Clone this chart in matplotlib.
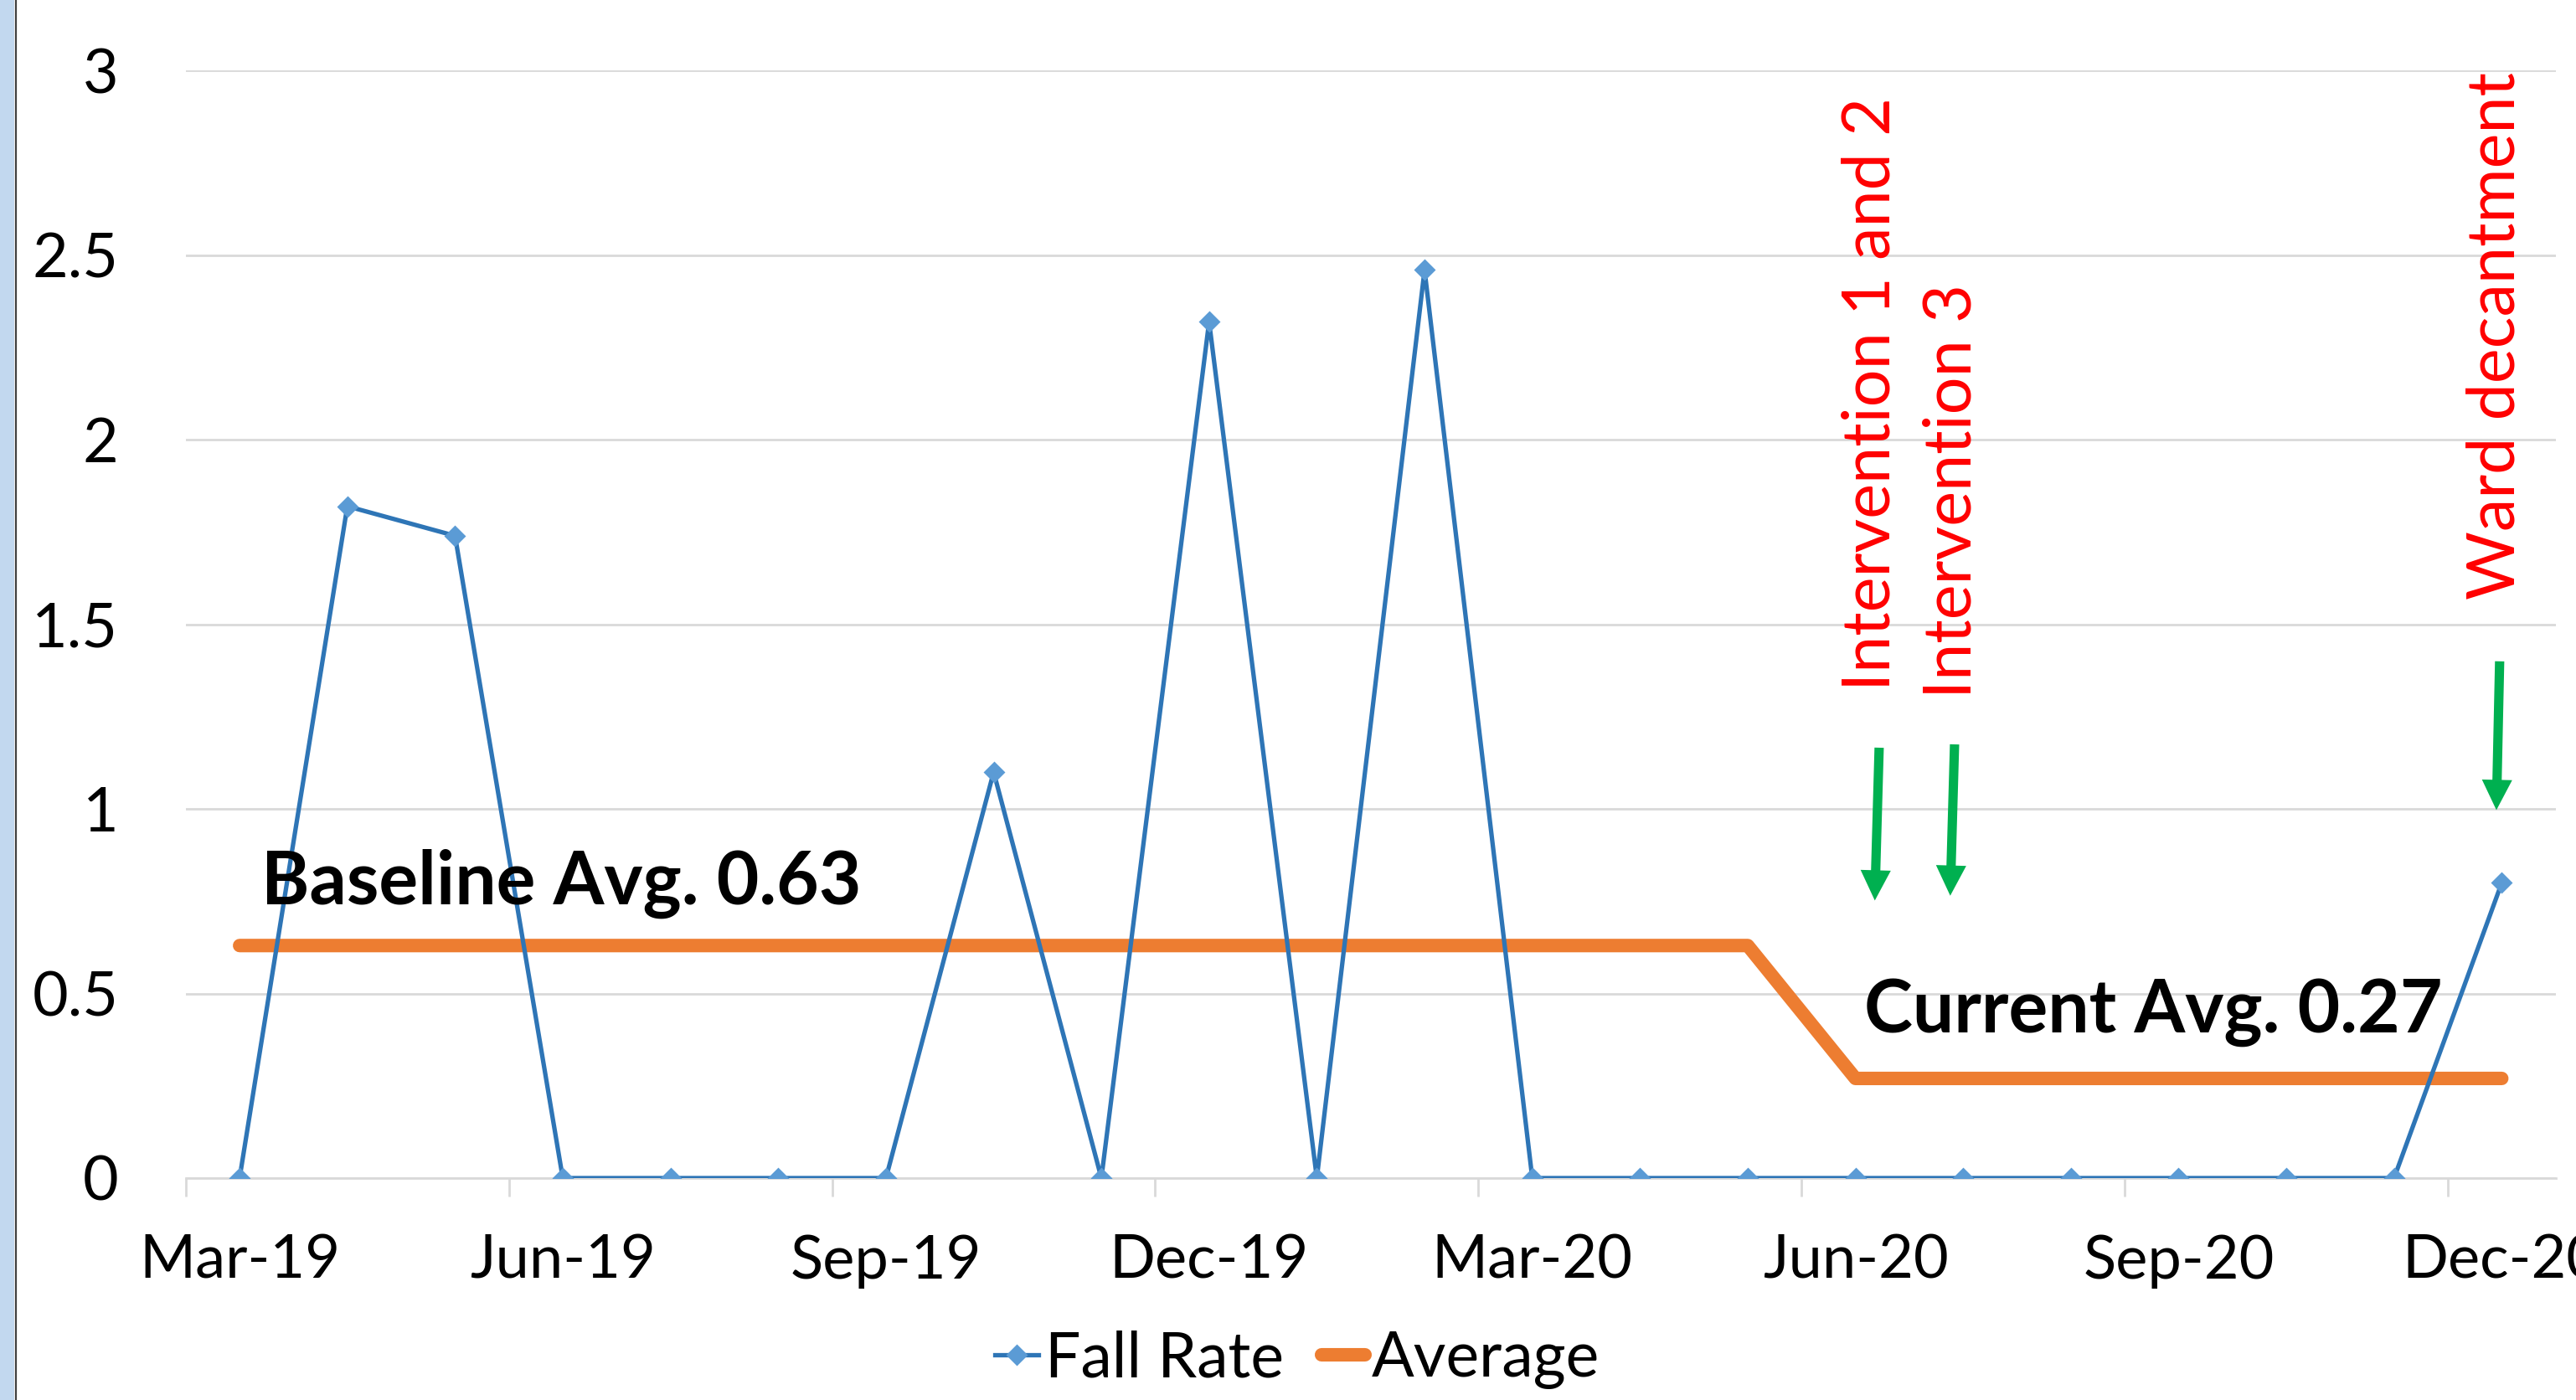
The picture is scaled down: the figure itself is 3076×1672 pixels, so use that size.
import matplotlib
matplotlib.use('Agg')
import matplotlib.pyplot as plt
from matplotlib.patches import Rectangle
from matplotlib.lines import Line2D

plt.rcParams['font.family'] = ['Lato', 'DejaVu Sans']

# monthly fall rate, Mar-19 .. Dec-20
months = ['Mar-19', 'Apr-19', 'May-19', 'Jun-19', 'Jul-19', 'Aug-19', 'Sep-19',
          'Oct-19', 'Nov-19', 'Dec-19', 'Jan-20', 'Feb-20', 'Mar-20', 'Apr-20',
          'May-20', 'Jun-20', 'Jul-20', 'Aug-20', 'Sep-20', 'Oct-20', 'Nov-20',
          'Dec-20']
fall_rate = [0, 1.82, 1.74, 0, 0, 0, 0, 1.10, 0, 2.32, 0, 2.46, 0, 0, 0,
             0, 0, 0, 0, 0, 0, 0.80]
average = [0.63] * 15 + [0.27] * 7

events = ['Intervention 1 and 2', 'Intervention 3', 'Ward decantment']
event_x = [15.15, 15.9, 20.95]

x = list(range(len(months)))

fig = plt.figure(figsize=(15.38, 8.36), dpi=200)
ax = fig.add_axes([0.0721, 0.1585, 0.92, 0.791])

# left blue strip of the slide
fig.patches.append(Rectangle((0, 0), 17 / 3076, 1, transform=fig.transFigure,
                             facecolor='#C2D8EF', edgecolor='none'))
fig.add_artist(Line2D([18.5 / 3076, 18.5 / 3076], [0, 1], transform=fig.transFigure,
                      color='#404040', lw=0.8))

ax.plot(x, fall_rate, color='#2E75B6', lw=1.9, marker='D', markersize=5.5,
        markerfacecolor='#5B9BD5', markeredgecolor='#5B9BD5', label='Fall Rate',
        zorder=3)
ax.plot(x, average, color='#ED7D31', lw=5.8, solid_capstyle='round',
        solid_joinstyle='round', label='Average', zorder=2)

ax.set_xlim(-0.5, 21.5)
ax.set_ylim(0, 3)
ax.set_yticks([0, 0.5, 1, 1.5, 2, 2.5, 3])
ax.set_yticklabels(['0', '0.5', '1', '1.5', '2', '2.5', '3'])
ax.set_xticks(x[::3])
ax.set_xticklabels(months[::3])
ax.set_xticks([i - 0.5 for i in range(0, 22, 3)], minor=True)

ax.grid(axis='y', color='#D9D9D9', lw=1.0)
ax.set_axisbelow(True)
for s in ['top', 'right', 'left']:
    ax.spines[s].set_visible(False)
ax.spines['bottom'].set_color('#D9D9D9')
ax.spines['bottom'].set_linewidth(1.0)

ax.tick_params(axis='y', length=0, pad=29, labelsize=26.5)
ax.tick_params(axis='x', which='major', length=0, pad=24, labelsize=26)
ax.tick_params(axis='x', which='minor', length=8, width=1.0, color='#D9D9D9')

ax.text(0.2, 0.743, 'Baseline Avg. 0.63', fontsize=31.5, fontweight='bold',
        ha='left', va='baseline')
ax.text(15.08, 0.396, 'Current Avg. 0.27', fontsize=31.5, fontweight='bold',
        ha='left', va='baseline')

ax.text(event_x[0], 1.32, events[0], rotation=90, color='red', fontsize=28.5,
        ha='center', va='bottom')
ax.text(event_x[1], 1.30, events[1], rotation=90, color='red', fontsize=28.5,
        ha='center', va='bottom')
ax.text(event_x[2], 1.567, events[2], rotation=90, color='red', fontsize=28.5,
        ha='center', va='bottom')

arrows = [((15.22, 1.166), (15.18, 0.752)),
          ((15.92, 1.175), (15.88, 0.765)),
          ((20.98, 1.40), (20.95, 0.997))]
for start, end in arrows:
    ax.annotate('', xy=end, xytext=start,
                arrowprops=dict(width=4, headwidth=13, headlength=13, shrink=0,
                                facecolor='#00B050', edgecolor='none'))

fig.legend(loc='center', bbox_to_anchor=(0.5036, 0.029), ncol=2, frameon=False,
           fontsize=27, handlelength=0.7, handletextpad=0.1, columnspacing=0.6)

fig.savefig('out.png', dpi=200, facecolor='w')
